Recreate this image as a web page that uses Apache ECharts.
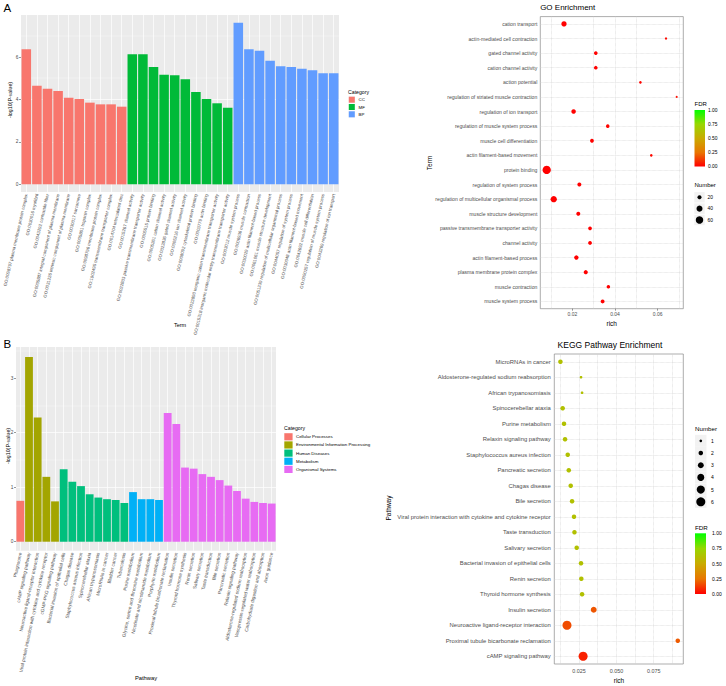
<!DOCTYPE html>
<html><head><meta charset="utf-8">
<script src="https://cdn.jsdelivr.net/npm/echarts@6/dist/echarts.min.js"></script>
<style>html,body{margin:0;padding:0;background:#fff}#c{width:726px;height:686px}</style>
</head><body><div id="c"></div>
<script>
const FONT = '"Liberation Sans", Arial, Helvetica, sans-serif';

// ---------- Panel A: GO bar chart ----------
const goTerms = [
  'GO:0098797 plasma membrane protein complex','GO:0030016 myofibril','GO:0043292 contractile fiber',
  'GO:0005887 integral component of plasma membrane','GO:0031226 intrinsic component of plasma membrane',
  'GO:0030017 sarcomere','GO:0005861 troponin complex','GO:0098796 membrane protein complex',
  'GO:1902495 transmembrane transporter complex','GO:0014704 intercalated disc',
  'GO:0015267 channel activity','GO:0022803 passive transmembrane transporter activity','GO:0005515 protein binding',
  'GO:0005261 cation channel activity','GO:0022836 gated channel activity','GO:0005216 ion channel activity',
  'GO:0008092 cytoskeletal protein binding','GO:0003779 actin binding',
  'GO:0022890 inorganic cation transmembrane transporter activity',
  'GO:0015318 inorganic molecular entity transmembrane transporter activity',
  'GO:0003012 muscle system process','GO:0006936 muscle contraction','GO:0030029 actin filament-based process',
  'GO:0061061 muscle structure development','GO:0051239 regulation of multicellular organismal process',
  'GO:0044057 regulation of system process','GO:0030048 actin filament-based movement',
  'GO:0042692 muscle cell differentiation','GO:0090257 regulation of muscle system process',
  'GO:0043269 regulation of ion transport'
];
const goCategory = ['CC','CC','CC','CC','CC','CC','CC','CC','CC','CC',
  'MF','MF','MF','MF','MF','MF','MF','MF','MF','MF',
  'BP','BP','BP','BP','BP','BP','BP','BP','BP','BP'];
const goLogP = [6.37,4.65,4.51,4.40,4.08,4.02,3.85,3.77,3.77,3.66,
  6.13,6.13,5.53,5.16,5.14,4.95,4.35,4.02,3.82,3.61,
  7.61,6.37,6.29,5.82,5.57,5.53,5.45,5.38,5.23,5.23];
const goCatNames = ['CC','MF','BP'];
const goCatColors = ['#F8766D','#00BA38','#619CFF'];
const goBarTicks = [0,2,4,6];

// ---------- Panel B: KEGG bar chart ----------
const keggPathways = [
  'Phagosome','cAMP signaling pathway','Neuroactive ligand-receptor interaction',
  'Viral protein interaction with cytokine and cytokine receptor','cGMP-PKG signaling pathway',
  'Bacterial invasion of epithelial cells','Chagas disease','Staphylococcus aureus infection',
  'Spinocerebellar ataxia','African trypanosomiasis','MicroRNAs in cancer','Bladder cancer','Tuberculosis',
  'Purine metabolism','Glycine, serine and threonine metabolism','Nicotinate and nicotinamide metabolism',
  'Porphyrin metabolism','Proximal tubule bicarbonate reclamation','Insulin secretion',
  'Thyroid hormone synthesis','Renin secretion','Salivary secretion','Taste transduction','Bile secretion',
  'Pancreatic secretion','Relaxin signaling pathway','Aldosterone-regulated sodium reabsorption',
  'Vasopressin-regulated water reabsorption','Carbohydrate digestion and absorption','Axon guidance'
];
const keggCategory = ['CP','EIP','EIP','EIP','EIP','HD','HD','HD','HD','HD','HD','HD','HD',
  'M','M','M','M','OS','OS','OS','OS','OS','OS','OS','OS','OS','OS','OS','OS','OS'];
const keggLogP = [0.75,3.39,2.28,1.19,0.74,1.33,1.10,1.02,0.87,0.81,0.78,0.765,0.71,
  0.91,0.78,0.78,0.765,2.36,2.16,1.36,1.34,1.24,1.19,1.13,1.03,0.93,0.79,0.73,0.71,0.70];
const keggCatKeys = ['CP','EIP','HD','M','OS'];
const keggCatNames = ['Cellular Processes','Environmental Information Processing','Human Diseases','Metabolism','Organismal Systems'];
const keggCatColors = ['#F8766D','#A3A500','#00BF7D','#00B0F6','#E76BF3'];
const keggBarTicks = [0,1,2,3];

// ---------- Panel C: GO enrichment dot plot (top to bottom) ----------
const goDotTerms = ['cation transport','actin-mediated cell contraction','gated channel activity',
  'cation channel activity','action potential','regulation of striated muscle contraction',
  'regulation of ion transport','regulation of muscle system process','muscle cell differentiation',
  'actin filament-based movement','protein binding','regulation of system process',
  'regulation of multicellular organismal process','muscle structure development',
  'passive transmembrane transporter activity','channel activity','actin filament-based process',
  'plasma membrane protein complex','muscle contraction','muscle system process'];
const goDotRich = [0.0161,0.0639,0.0310,0.0310,0.0519,0.0689,0.0206,0.0366,0.0292,0.0570,
  0.0080,0.0233,0.0113,0.0228,0.0283,0.0283,0.0219,0.0263,0.0369,0.0342];
const goDotCount = [32,8,17,17,10,7,24,16,18,10,72,20,44,20,18,18,23,21,16,19];
const goDotFDR = [0.001,0.02,0.003,0.003,0.01,0.03,0.002,0.01,0.004,0.02,
  0.001,0.001,0.001,0.001,0.001,0.001,0.001,0.001,0.001,0.001];
const goRichTicks = [0.02,0.04,0.06];
const goNumberLegend = [20,40,60];

// ---------- Panel D: KEGG enrichment dot plot (top to bottom) ----------
const keggDotPathways = ['MicroRNAs in cancer','Aldosterone-regulated sodium reabsorption','African trypanosomiasis',
  'Spinocerebellar ataxia','Purine metabolism','Relaxin signaling pathway','Staphylococcus aureus infection',
  'Pancreatic secretion','Chagas disease','Bile secretion',
  'Viral protein interaction with cytokine and cytokine receptor','Taste transduction','Salivary secretion',
  'Bacterial invasion of epithelial cells','Renin secretion','Thyroid hormone synthesis','Insulin secretion',
  'Neuroactive ligand-receptor interaction','Proximal tubule bicarbonate reclamation','cAMP signaling pathway'];
const keggDotRich = [0.0125,0.0263,0.0270,0.0140,0.0149,0.0156,0.0174,0.0181,0.0194,0.0203,
  0.0216,0.0219,0.0234,0.0263,0.0265,0.0270,0.0348,0.0169,0.0911,0.0277];
const keggDotCount = [2,1,1,2,2,2,2,2,2,2,2,2,2,2,2,2,3,6,2,6];
const keggDotFDR = [0.62,0.62,0.62,0.62,0.62,0.62,0.62,0.62,0.62,0.62,
  0.62,0.62,0.62,0.62,0.62,0.62,0.18,0.16,0.19,0.07];
const keggRichTicks = [0.025,0.05,0.075];
const keggRichGrid = [0.0125,0.025,0.0375,0.05,0.0625,0.075,0.0875];
const keggNumberLegend = [1,2,3,4,5,6];

const fdrTicks = ['1.00','0.75','0.50','0.25','0.00'];
const fdrColors = ['#FF0000','#E87600','#C9AB00','#98D700','#00FF00'];

// ---------- helpers ----------
const goSize = n => Math.max(1.6, 1.06*Math.sqrt(n) - 0.7);
const keggSize = n => 4.35*Math.sqrt(n) - 1.65;
const gray30 = '#4D4D4D';

function txt(x, y, s, size, o) {
  o = o || {};
  return {type:'text', x:x, y:y, rotation:o.rot||0, silent:true, z:10,
    style:{text:s, fontSize:size, fontFamily:FONT, fill:o.fill||'#000',
      align:o.align||'left', verticalAlign:o.va||'middle',
      textAlign:o.align||'left', textVerticalAlign:o.va||'middle'}};
}
function rect(x,y,w,h,fill){return {type:'rect', silent:true, z:10, shape:{x:x,y:y,width:w,height:h}, style:{fill:fill}};}
function circ(cx,cy,d){return {type:'circle', silent:true, z:11, shape:{cx:cx,cy:cy,r:d/2}, style:{fill:'#000'}};}
function gradBar(x,y,w,h){
  return {type:'rect', silent:true, z:10, shape:{x:x,y:y,width:w,height:h},
    style:{fill:{type:'linear',x:0,y:0,x2:0,y2:1,colorStops:[
      {offset:0,color:fdrColors[4]},{offset:0.25,color:fdrColors[3]},{offset:0.5,color:fdrColors[2]},
      {offset:0.75,color:fdrColors[1]},{offset:1,color:fdrColors[0]}]}}};
}

const gfx = [];
// panel letters and titles
gfx.push(txt(3.5, 2, 'A', 11.5, {va:'top'}));
gfx.push(txt(3.5, 338, 'B', 11.5, {va:'top'}));
gfx.push(txt(567.7, 7, 'GO Enrichment', 8, {align:'center'}));
gfx.push(txt(610, 344.5, 'KEGG Pathway Enrichment', 8.5, {align:'center'}));
// axis titles
gfx.push(txt(10, 100, '-log10(P-value)', 5.3, {align:'center', rot:Math.PI/2}));
gfx.push(txt(180, 325, 'Term', 5.5, {align:'center'}));
gfx.push(txt(8, 446, '-log10(P-value)', 5.3, {align:'center', rot:Math.PI/2}));
gfx.push(txt(146, 678, 'Pathway', 5.8, {align:'center'}));
gfx.push(txt(429, 163, 'Term', 6.5, {align:'center', rot:Math.PI/2}));
gfx.push(txt(611.7, 323.5, 'rich', 6.5, {align:'center'}));
gfx.push(txt(388.5, 508, 'Pathway', 6.5, {align:'center', rot:Math.PI/2}));
gfx.push(txt(619, 680, 'rich', 6.5, {align:'center'}));

// legend A (Category)
gfx.push(txt(348, 92, 'Category', 5.2));
goCatNames.forEach((n,i)=>{
  const cy = 99.7 + i*7.3;
  gfx.push(rect(348.5, cy-3.3, 6.6, 6.6, '#F2F2F2'));
  gfx.push(rect(348.8, cy-3, 6, 6, goCatColors[i]));
  gfx.push(txt(358.5, cy, n, 4.4));
});
// legend B (Category)
gfx.push(txt(284, 428, 'Category', 5.2));
keggCatNames.forEach((n,i)=>{
  const cy = 436.8 + i*8.15;
  gfx.push(rect(284.3, cy-3.6, 8.3, 7.2, keggCatColors[i]));
  gfx.push(txt(296, cy, n, 4.4));
});
// legend C: FDR + Number
gfx.push(txt(694.5, 104, 'FDR', 6));
gfx.push(gradBar(694.5, 110, 10.5, 56.5));
fdrTicks.forEach((t,i)=>{ gfx.push(txt(708, 110 + i*56.5/4, t, 4.9)); });
gfx.push(txt(694.5, 185, 'Number', 6));
goNumberLegend.forEach((n,i)=>{
  const cy = 197.3 + i*11.35;
  gfx.push(rect(694.3, cy-5.2, 10.4, 10.4, '#F2F2F2'));
  gfx.push(circ(699.5, cy, goSize(n)));
  gfx.push(txt(707.5, cy, String(n), 4.9));
});
// legend D: Number + FDR
gfx.push(txt(695, 428.5, 'Number', 6.2));
keggNumberLegend.forEach((n,i)=>{
  const cy = 440.8 + i*12.2;
  gfx.push(rect(695, cy-6, 11.5, 12, '#F2F2F2'));
  gfx.push(circ(700.8, cy, keggSize(n)));
  gfx.push(txt(711, cy, String(n), 5));
});
gfx.push(txt(695, 527, 'FDR', 6.2));
gfx.push(gradBar(695, 533.3, 11, 60.7));
fdrTicks.forEach((t,i)=>{ gfx.push(txt(712, 533.3 + i*60.7/4, t, 5)); });

// ---------- option ----------
const tickStyle = {lineStyle:{color:'#333', width:0.5}};
const option = {
  animation:false,
  backgroundColor:'#ffffff',
  grid:[
    {left:21, top:15, width:318, height:177, show:true, backgroundColor:'#EBEBEB', borderWidth:0},
    {left:16, top:347, width:260, height:203.7, show:true, backgroundColor:'#EBEBEB', borderWidth:0},
    {left:540.3, top:16.6, width:143, height:292.1, show:true, backgroundColor:'transparent', borderColor:'#8A8A8A', borderWidth:0.7},
    {left:554.3, top:354, width:129, height:310, show:true, backgroundColor:'transparent', borderColor:'#8A8A8A', borderWidth:0.7}
  ],
  xAxis:[
    {type:'category', gridIndex:0, data:goTerms,
      axisLine:{show:false, onZero:false},
      axisTick:Object.assign({alignWithLabel:true, length:2, interval:0}, tickStyle),
      axisLabel:{interval:0, rotate:77, fontSize:4.4, margin:2, color:gray30, fontFamily:FONT},
      splitLine:{show:true, alignWithLabel:true, interval:0, lineStyle:{color:'#fff', width:0.7}}},
    {type:'category', gridIndex:1, data:keggPathways,
      axisLine:{show:false, onZero:false},
      axisTick:Object.assign({alignWithLabel:true, length:2, interval:0}, tickStyle),
      axisLabel:{interval:0, rotate:78, fontSize:4.7, margin:2, color:gray30, fontFamily:FONT},
      splitLine:{show:true, alignWithLabel:true, interval:0, lineStyle:{color:'#fff', width:0.7}}},
    {type:'value', gridIndex:2, min:0.005, max:0.072, splitNumber:3,
      axisLine:{show:false, onZero:false},
      axisTick:Object.assign({show:true, length:2, customValues:goRichTicks}, tickStyle),
      axisLabel:{customValues:goRichTicks, fontSize:5, margin:3, color:gray30, fontFamily:FONT},
      splitLine:{show:true, customValues:goRichTicks, showMinLine:false, showMaxLine:false, lineStyle:{color:'#CFCFCF', width:0.6, type:'dotted'}},
      minorTick:{show:false, splitNumber:2},
      minorSplitLine:{show:true, lineStyle:{color:'#CFCFCF', width:0.6, type:'dotted'}}},
    {type:'value', gridIndex:3, min:0.0084, max:0.0948,
      axisLine:{show:false, onZero:false},
      axisTick:Object.assign({show:false, length:2, customValues:keggRichGrid}, tickStyle),
      axisLabel:{customValues:keggRichTicks, fontSize:5.4, margin:4, color:gray30, fontFamily:FONT,
        formatter:v=>v.toFixed(3)},
      splitLine:{show:true, customValues:keggRichGrid, lineStyle:{color:'#CFCFCF', width:0.6, type:'dotted'}}}
  ],
  yAxis:[
    {type:'value', gridIndex:0, min:-0.36, max:7.98, splitNumber:4,
      axisLine:{show:false},
      axisTick:Object.assign({show:true, length:2, customValues:goBarTicks}, tickStyle),
      axisLabel:{customValues:goBarTicks, fontSize:4.8, margin:2.5, color:gray30, fontFamily:FONT},
      splitLine:{show:true, customValues:goBarTicks, showMinLine:false, showMaxLine:false, lineStyle:{color:'#fff', width:0.7}},
      minorTick:{show:false, splitNumber:2},
      minorSplitLine:{show:true, lineStyle:{color:'#fff', width:0.35}}},
    {type:'value', gridIndex:1, min:-0.165, max:3.572, splitNumber:4,
      axisLine:{show:false},
      axisTick:Object.assign({show:true, length:2, customValues:keggBarTicks}, tickStyle),
      axisLabel:{customValues:keggBarTicks, fontSize:4.8, margin:2.5, color:gray30, fontFamily:FONT},
      splitLine:{show:true, customValues:keggBarTicks, showMinLine:false, showMaxLine:false, lineStyle:{color:'#fff', width:0.7}},
      minorTick:{show:false, splitNumber:2},
      minorSplitLine:{show:true, lineStyle:{color:'#fff', width:0.35}}},
    {type:'category', gridIndex:2, data:goDotTerms, inverse:true,
      axisLine:{show:false},
      axisTick:Object.assign({alignWithLabel:true, length:2, interval:0}, tickStyle),
      axisLabel:{interval:0, fontSize:5.1, margin:3, color:gray30, fontFamily:FONT},
      splitLine:{show:true, alignWithLabel:true, interval:0, lineStyle:{color:'#CFCFCF', width:0.6, type:'dotted'}}},
    {type:'category', gridIndex:3, data:keggDotPathways, inverse:true,
      axisLine:{show:false},
      axisTick:Object.assign({alignWithLabel:true, length:2, interval:0}, tickStyle),
      axisLabel:{interval:0, fontSize:5.9, margin:3.5, color:gray30, fontFamily:FONT},
      splitLine:{show:true, alignWithLabel:true, interval:0, lineStyle:{color:'#CFCFCF', width:0.6, type:'dotted'}}}
  ],
  visualMap:[{type:'continuous', show:false, min:0, max:1, dimension:3, seriesIndex:[2,3],
    inRange:{color:fdrColors}}],
  series:[
    {type:'bar', xAxisIndex:0, yAxisIndex:0, barCategoryGap:'10%',
      data:goLogP.map((v,i)=>({value:v, itemStyle:{color:goCatColors[goCatNames.indexOf(goCategory[i])]}}))},
    {type:'bar', xAxisIndex:1, yAxisIndex:1, barCategoryGap:'10%',
      data:keggLogP.map((v,i)=>({value:v, itemStyle:{color:keggCatColors[keggCatKeys.indexOf(keggCategory[i])]}}))},
    {type:'scatter', xAxisIndex:2, yAxisIndex:2, symbol:'circle',
      data:goDotRich.map((r,i)=>[r, i, goDotCount[i], goDotFDR[i]]),
      symbolSize:v=>goSize(v[2]), itemStyle:{opacity:1}},
    {type:'scatter', xAxisIndex:3, yAxisIndex:3, symbol:'circle',
      data:keggDotRich.map((r,i)=>[r, i, keggDotCount[i], keggDotFDR[i]]),
      symbolSize:v=>keggSize(v[2]), itemStyle:{opacity:1}}
  ],
  graphic:{elements:gfx}
};
const chart = echarts.init(document.getElementById('c'), null, {renderer:'svg', width:726, height:686});
chart.setOption(option);
</script>
</body></html>
